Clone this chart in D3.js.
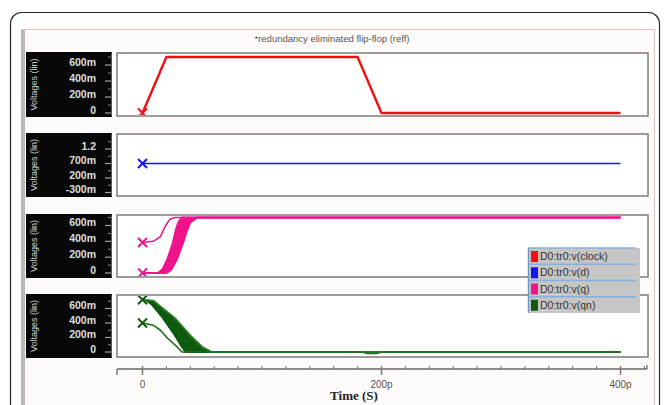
<!DOCTYPE html>
<html>
<head>
<meta charset="utf-8">
<script src="https://cdn.jsdelivr.net/npm/d3@7"></script>
<style>
  html, body { margin: 0; padding: 0; background: #fff; }
  svg { display: block; }
</style>
</head>
<body>
<svg id="chart" width="670" height="405"></svg>
<script>
// ---- time axis (picoseconds) ----
const timeTicks = [0, 200, 400];
const timeTickLabels = ["0", "200p", "400p"];
const timeMinorTicks = [-20, 0, 20, 40, 60, 80, 100, 120, 140, 160, 180, 200, 220, 240, 260, 280, 300, 320, 340, 360, 380, 400, 420];

// ---- y tick values per panel (volts) ----
const clockTicks = [0, 0.2, 0.4, 0.6];
const dTicks = [-0.3, 0.2, 0.7, 1.2];
const qTicks = [0, 0.2, 0.4, 0.6];
const qnTicks = [0, 0.2, 0.4, 0.6];

// ---- waveforms: times in ps, voltages in V ----
const clockT = [0, 20, 180, 200, 400];
const clockV = [0, 0.7, 0.7, 0, 0];

const dT = [0, 400];
const dV = [0.7, 0.7];

// q: one run starting half-way, and a spread of runs starting low
const qUpperT = [0, 9, 15, 19, 23, 27, 400];
const qUpperV = [0.385, 0.4, 0.46, 0.59, 0.68, 0.7, 0.7];
const qEarlyT = [0, 13, 17, 21, 25.5, 28, 30, 33, 400];
const qEarlyV = [0, 0, 0.05, 0.18, 0.385, 0.55, 0.64, 0.7, 0.7];
const qLateT = [0, 20, 24, 29, 34, 37, 40, 45.6, 400];
const qLateV = [0, 0, 0.04, 0.18, 0.385, 0.53, 0.64, 0.7, 0.7];

// qn: one run starting half-way, and a spread of runs starting high
const qnLowerT = [0, 9, 15, 21, 29, 33, 184, 188, 196, 200, 400];
const qnLowerV = [0.4, 0.37, 0.3, 0.19, 0.07, 0, 0, -0.02, -0.02, 0, 0];
const qnEarlyT = [0, 4, 8, 17, 27, 33, 36, 400];
const qnEarlyV = [0.72, 0.7, 0.65, 0.47, 0.23, 0.07, 0, 0];
const qnLateT = [0, 9, 15, 27, 40, 50, 58, 400];
const qnLateV = [0.72, 0.71, 0.63, 0.47, 0.23, 0.07, 0, 0];

// ---- legend ----
const seriesNames = ["D0:tr0:v(clock)", "D0:tr0:v(d)", "D0:tr0:v(q)", "D0:tr0:v(qn)"];
const seriesColors = ["#f01010", "#1414f0", "#f0148c", "#0e5a0e"];

const titleText = "*redundancy eliminated flip-flop (reff)";

const zip = (T, V) => T.map((t, i) => ({ t: t, v: V[i] }));

const svg = d3.select("#chart");
const FONT = "'Liberation Sans', Arial, sans-serif";

// outer card and inner window
svg.append("rect").attr("x", 10.5).attr("y", 12.5).attr("width", 649).attr("height", 440)
  .attr("rx", 11).attr("fill", "#fff").attr("stroke", "#262626").attr("stroke-width", 1.2);
svg.append("rect").attr("x", 21.5).attr("y", 29.5).attr("width", 633).attr("height", 400)
  .attr("fill", "#fffbfb").attr("stroke", "#d8c2c2");
svg.append("rect").attr("x", 21).attr("y", 30).attr("width", 4).attr("height", 400).attr("fill", "#b8b8b8");

svg.append("text").attr("x", 332).attr("y", 41.5).attr("text-anchor", "middle")
  .attr("font-family", FONT).attr("font-size", 9.5).attr("fill", "#555").text(titleText);

const x = d3.scaleLinear().domain([0, 400]).range([142.5, 620.5]);
const plotLeft = 117, plotRight = 648;

const panels = [
  { id: "p1", top: 53, bottom: 116, ticks: clockTicks, dom: [0, 0.6], rng: [113, 65] },
  { id: "p2", top: 134, bottom: 196, ticks: dTicks, dom: [-0.3, 1.2], rng: [192.5, 149] },
  { id: "p3", top: 215, bottom: 277, ticks: qTicks, dom: [0, 0.6], rng: [273, 225.5] },
  { id: "p4", top: 295, bottom: 357, ticks: qnTicks, dom: [0, 0.6], rng: [352, 308.5] }
];

// SI-style labels: 0, 200m, -300m, 1.2
const fmtV = v => v === 0 ? "0" : (Math.abs(v) >= 1 ? v.toFixed(1) : String(Math.round(v * 1000)) + "m");

const defs = svg.append("defs");

panels.forEach(p => {
  p.y = d3.scaleLinear().domain(p.dom).range(p.rng);
  const g = svg.append("g");
  // black axis block
  g.append("rect").attr("x", 26).attr("y", p.top - 1).attr("width", 86).attr("height", p.bottom - p.top + 2)
    .attr("fill", "#080808");
  // minor ticks at half steps
  const step = p.ticks[1] - p.ticks[0];
  const minors = p.ticks.map(t => t + step / 2).filter(t => p.y(t) > p.top + 2);
  g.selectAll(".mt").data(minors).enter().append("line")
    .attr("x1", 108).attr("x2", 112).attr("y1", d => p.y(d)).attr("y2", d => p.y(d))
    .attr("stroke", "#8a8a8a").attr("stroke-width", 1);
  g.selectAll(".tk").data(p.ticks).enter().append("line")
    .attr("x1", 105).attr("x2", 112).attr("y1", d => p.y(d)).attr("y2", d => p.y(d))
    .attr("stroke", "#a0a0a0").attr("stroke-width", 1.2);
  g.append("line").attr("x1", 111.5).attr("x2", 111.5).attr("y1", p.top).attr("y2", p.bottom)
    .attr("stroke", "#5a5a5a");
  g.selectAll(".tl").data(p.ticks).enter().append("text")
    .attr("x", 96).attr("y", d => p.y(d) + 0.5).attr("text-anchor", "end")
    .attr("font-family", FONT).attr("font-size", 10.5).attr("font-weight", "bold").attr("fill", "#dedede")
    .text(fmtV);
  const mid = (p.top + p.bottom) / 2;
  g.append("text").attr("transform", `translate(37,${mid}) rotate(-90)`).attr("text-anchor", "middle")
    .attr("font-family", FONT).attr("font-size", 9).attr("fill", "#d0d0d0").text("Voltages (lin)");
  // plot box
  g.append("rect").attr("x", plotLeft).attr("y", p.top).attr("width", plotRight - plotLeft)
    .attr("height", p.bottom - p.top).attr("fill", "#fff").attr("stroke", "#7c7c7c").attr("stroke-width", 1.5);
  defs.append("clipPath").attr("id", "clip-" + p.id).append("rect")
    .attr("x", plotLeft + 1).attr("y", p.top + 1).attr("width", plotRight - plotLeft - 2).attr("height", p.bottom - p.top - 2);
  p.plot = svg.append("g").attr("clip-path", `url(#clip-${p.id})`);
});

function drawLine(p, data, color, width) {
  const line = d3.line().x(d => x(d.t)).y(d => p.y(d.v));
  p.plot.append("path").datum(data).attr("d", line).attr("fill", "none")
    .attr("stroke", color).attr("stroke-width", width).attr("stroke-linejoin", "round");
}
function drawBand(p, early, late, color) {
  const poly = early.concat(late.slice().reverse());
  const line = d3.line().x(d => x(d.t)).y(d => p.y(d.v));
  p.plot.append("path").attr("d", line(poly) + "Z").attr("fill", color).attr("stroke", color).attr("stroke-width", 1);
}
function drawMarker(p, pt, color) {
  const cx = x(pt.t), cy = p.y(pt.v), r = 4.5;
  p.plot.append("path").attr("d", `M${cx - r},${cy - r}L${cx + r},${cy + r}M${cx - r},${cy + r}L${cx + r},${cy - r}`)
    .attr("stroke", color).attr("stroke-width", 2).attr("fill", "none");
}

// clock
const clk = zip(clockT, clockV);
drawLine(panels[0], clk, seriesColors[0], 2.4);
drawMarker(panels[0], clk[0], seriesColors[0]);

// d
const dd = zip(dT, dV);
drawLine(panels[1], dd, seriesColors[1], 1.6);
drawMarker(panels[1], dd[0], seriesColors[1]);

// q
const qU = zip(qUpperT, qUpperV), qE = zip(qEarlyT, qEarlyV), qL = zip(qLateT, qLateV);
drawBand(panels[2], qE, qL, seriesColors[2]);
drawLine(panels[2], qE, seriesColors[2], 2);
drawLine(panels[2], qL, seriesColors[2], 2);
drawLine(panels[2], qU, seriesColors[2], 1.5);
drawMarker(panels[2], qU[0], seriesColors[2]);
drawMarker(panels[2], qE[0], seriesColors[2]);

// qn
const nL = zip(qnLowerT, qnLowerV), nE = zip(qnEarlyT, qnEarlyV), nLt = zip(qnLateT, qnLateV);
drawBand(panels[3], nE, nLt, seriesColors[3]);
drawLine(panels[3], nE, seriesColors[3], 1.8);
drawLine(panels[3], nLt, "#2f7d2f", 1.8);
drawLine(panels[3], nL, "#1f6d1f", 1.6);
drawMarker(panels[3], nE[0], seriesColors[3]);
drawMarker(panels[3], nL[0], seriesColors[3]);

// time axis
const ax = svg.append("g");
const axY = 369;
ax.append("line").attr("x1", plotLeft).attr("x2", 647).attr("y1", axY).attr("y2", axY)
  .attr("stroke", "#6a6a6a").attr("stroke-width", 1.3);
ax.append("line").attr("x1", plotLeft).attr("x2", plotLeft).attr("y1", axY).attr("y2", axY + 6)
  .attr("stroke", "#6a6a6a").attr("stroke-width", 1.3);
ax.append("line").attr("x1", 647).attr("x2", 647).attr("y1", axY).attr("y2", axY - 4)
  .attr("stroke", "#6a6a6a").attr("stroke-width", 1.3);
ax.selectAll(".xm").data(timeMinorTicks.filter(t => x(t) > plotLeft + 2 && x(t) < 646)).enter().append("line")
  .attr("x1", d => x(d)).attr("x2", d => x(d)).attr("y1", axY - 3).attr("y2", axY)
  .attr("stroke", "#6a6a6a").attr("stroke-width", 1);
ax.selectAll(".xM").data(timeTicks).enter().append("line")
  .attr("x1", d => x(d)).attr("x2", d => x(d)).attr("y1", axY - 3).attr("y2", axY + 6)
  .attr("stroke", "#7a7a7a").attr("stroke-width", 1.5);
ax.selectAll(".xl").data(timeTicks).enter().append("text")
  .attr("x", d => x(d)).attr("y", 387.5).attr("text-anchor", "middle")
  .attr("font-family", FONT).attr("font-size", 10).attr("fill", "#555")
  .text((d, i) => timeTickLabels[i]);
ax.append("text").attr("x", 354).attr("y", 399.5).attr("text-anchor", "middle")
  .attr("font-family", "'Liberation Serif', 'DejaVu Serif', serif").attr("font-weight", "bold")
  .attr("font-size", 13).attr("fill", "#222").text("Time (S)");

// legend
const lg = svg.append("g");
const lgX = 528, lgY = 248, lgW = 112, rowH = 16.25;
lg.append("rect").attr("x", lgX).attr("y", lgY).attr("width", lgW).attr("height", rowH * seriesNames.length)
  .attr("fill", "#c6c6c6");
seriesNames.forEach((name, i) => {
  const ry = lgY + i * rowH;
  lg.append("line").attr("x1", lgX).attr("x2", lgX + lgW - 4).attr("y1", ry).attr("y2", ry)
    .attr("stroke", "#86b0dc").attr("stroke-width", 1.5);
  lg.append("rect").attr("x", lgX + 3).attr("y", ry + 3).attr("width", 7).attr("height", 11)
    .attr("fill", seriesColors[i]);
  lg.append("text").attr("x", lgX + 12).attr("y", ry + 12).attr("font-family", FONT)
    .attr("font-size", 10.5).attr("fill", "#333").text(name);
});
lg.append("line").attr("x1", lgX + 0.5).attr("x2", lgX + 0.5).attr("y1", lgY).attr("y2", lgY + rowH * seriesNames.length)
  .attr("stroke", "#6d98c8").attr("stroke-width", 1.5);
</script>
</body>
</html>
